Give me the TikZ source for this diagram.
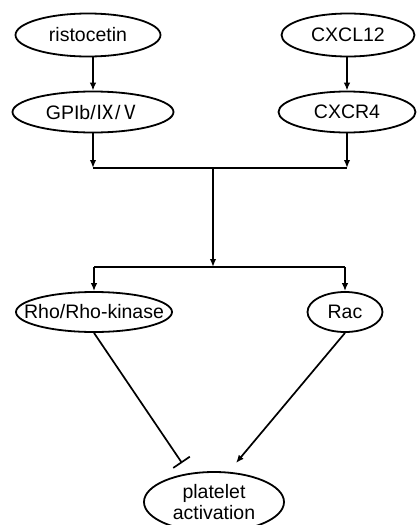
\documentclass[tikz,border=0pt]{standalone}
\usepackage{fontspec}
\setmainfont{Liberation Sans}
\newfontfamily\cjkfont{Noto Sans CJK SC}
\usetikzlibrary{shapes.geometric,arrows.meta}
\begin{document}
\begin{tikzpicture}[x=1pt,y=-1pt,
  oval/.style={draw,ellipse,line width=1.8pt,inner xsep=-60pt,inner ysep=-25pt,font=\fontsize{19.5}{21}\selectfont,align=center},
  conn/.style={line width=1.7pt},
  arr/.style={conn,-{Latex[length=8pt,width=6.5pt]}},
  inh/.style={conn,-{Bar[width=20pt,line width=1.7pt]}}]
\useasboundingbox (0,0) rectangle (416,525);
\node[oval,minimum width=145pt,minimum height=43pt] (risto) at (88,35) {ristocetin};
\node[oval,minimum width=133pt,minimum height=43pt] (cxcl) at (348,35) {CXCL12};
\node[oval,minimum width=161pt,minimum height=41pt] (gpib) at (93,112) {GPIb/{\cjkfont Ⅸ}/{\cjkfont Ⅴ}};
\node[oval,minimum width=137pt,minimum height=41pt] (cxcr) at (347,112) {CXCR4};
\node[oval,minimum width=156pt,minimum height=40pt] (rho) at (94,312) {Rho/Rho-kinase};
\node[oval,minimum width=75pt,minimum height=40pt] (rac) at (345,312) {Rac};
\node[oval,minimum width=140pt,minimum height=60pt] (plat) at (214,502) {platelet\\activation};
\coordinate (jm) at (213,168);
\coordinate (km) at (213,267);
\coordinate (t1) at (182,463);
\coordinate (t2) at (236,463);
\draw[arr] (gpib.north |- risto.south) -- (gpib.north);
\draw[arr] (cxcr.north |- cxcl.south) -- (cxcr.north);
\draw[arr] (gpib.south) -- (gpib.south |- jm);
\draw[arr] (cxcr.south) -- (cxcr.south |- jm);
\draw[conn] (gpib.south |- jm) -- (cxcr.south |- jm);
\draw[arr] (jm) -- (km);
\draw[conn] (rho.north |- km) -- (rac.north |- km);
\draw[arr] (rho.north |- km) -- (rho.north);
\draw[arr] (rac.north |- km) -- (rac.north);
\draw[inh] (rho.south) -- (t1);
\draw[arr] (rac.south) -- (t2);
\end{tikzpicture}
\end{document}
